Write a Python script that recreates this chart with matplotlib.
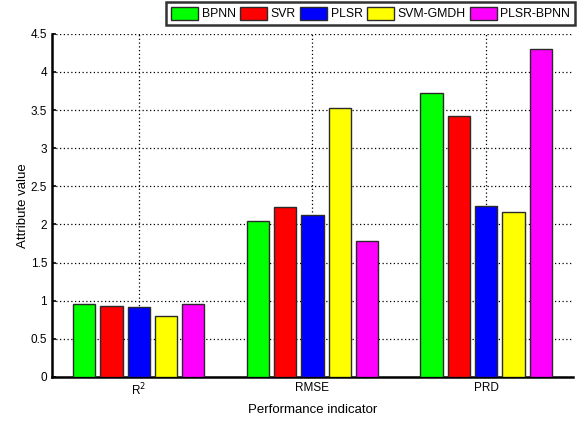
import numpy as np
import matplotlib.pyplot as plt

plt.rcParams['font.family'] = ['Liberation Sans', 'DejaVu Sans']

indicators = ["R$^2$", "RMSE", "PRD"]
models = ["BPNN", "SVR", "PLSR", "SVM-GMDH", "PLSR-BPNN"]
colors = ["#00ff00", "#ff0000", "#0000ff", "#ffff00", "#ff00ff"]

bpnn = [0.95, 2.04, 3.73]
svr = [0.93, 2.23, 3.42]
plsr = [0.92, 2.12, 2.24]
svm_gmdh = [0.80, 3.53, 2.16]
plsr_bpnn = [0.96, 1.78, 4.30]
series = [bpnn, svr, plsr, svm_gmdh, plsr_bpnn]

fig = plt.figure(figsize=(5.77, 4.23), dpi=100)
ax = fig.add_axes([0.090, 0.109, 0.903, 0.811])

x = np.arange(1, len(indicators) + 1)
step = 0.157
width = 0.128
for i, (vals, name, c) in enumerate(zip(series, models, colors)):
    ax.bar(x + (i - 2) * step, vals, width, color=c, edgecolor="#2a2a2a",
           linewidth=1.0, label=name, zorder=3)

ax.set_xlim(0.5, 3.5)
ax.set_ylim(0, 4.5)
ax.set_xticks(x)
ax.set_xticklabels(indicators, fontsize=8.5)
ax.set_yticks(np.arange(0, 4.51, 0.5))
ax.set_yticklabels(["0", "0.5", "1", "1.5", "2", "2.5", "3", "3.5", "4", "4.5"],
                   fontsize=8.5)
ax.tick_params(direction="in", length=3, width=1.2)
ax.grid(True, color="black", linestyle=(0, (1, 2)), linewidth=0.9, zorder=0)
ax.set_axisbelow(True)
for side in ["top", "right"]:
    ax.spines[side].set_visible(False)
for side in ["left", "bottom"]:
    ax.spines[side].set_linewidth(1.8)

ax.set_xlabel("Performance indicator", fontsize=9.5, labelpad=4)
ax.set_ylabel("Attribute value", fontsize=9.5, labelpad=1)

leg = fig.legend(loc="upper right", bbox_to_anchor=(1.0, 1.0), ncol=5,
                 fontsize=8.8, frameon=True, fancybox=False,
                 handlelength=2.2, handleheight=1.3, handletextpad=0.3,
                 columnspacing=0.35, borderpad=0.4, borderaxespad=0.15)
leg.get_frame().set_edgecolor("black")
leg.get_frame().set_linewidth(1.8)

fig.savefig("out.png", dpi=100)
